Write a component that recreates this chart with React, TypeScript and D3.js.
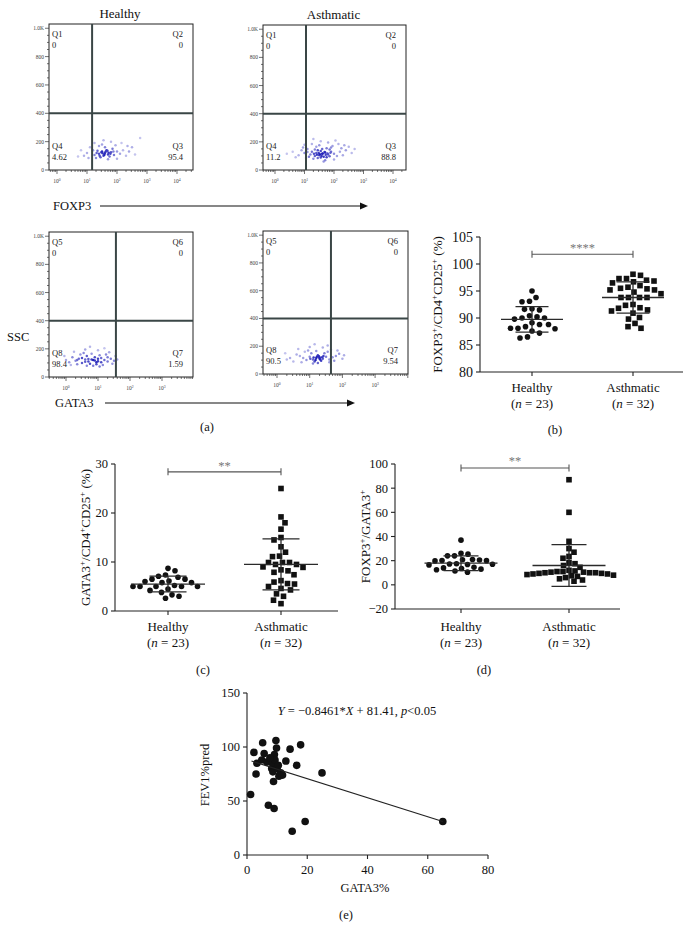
import React, { useEffect, useRef } from 'react'
import * as d3 from 'd3'

const SERIF = "'Liberation Serif', 'Times New Roman', Times, serif"

// (a) flow cytometry events, [log10 intensity, SSC]
const foxp3HealthyEvents = [
  [1.6, 120], [1.5, 130], [1.7, 110], [1.4, 115], [1.8, 125], [1.65, 140], [1.55, 100], [1.35, 135], [1.9, 105], [2.0, 130],
  [1.25, 105], [1.45, 90], [1.75, 95], [2.1, 115], [1.2, 140], [1.85, 150], [1.6, 160], [1.3, 85], [2.2, 140], [2.3, 100],
  [1.0, 120], [0.9, 100], [1.1, 160], [1.95, 175], [1.5, 180], [2.4, 130], [2.5, 160], [0.8, 140], [1.7, 75], [2.0, 80],
  [1.4, 170], [2.15, 190], [1.8, 200], [1.05, 85], [2.6, 110], [1.55, 210], [2.77, 225], [0.7, 95], [1.25, 190], [2.35, 170],
  [1.62, 128], [1.52, 118], [1.72, 122], [1.58, 108], [1.68, 135], [1.48, 125], [1.78, 115], [1.42, 100], [1.88, 130], [1.32, 120]
]
const foxp3AsthmaticEvents = [
  [1.6, 115], [1.5, 105], [1.7, 125], [1.4, 120], [1.8, 110], [1.55, 135], [1.65, 95], [1.35, 100], [1.9, 130], [2.0, 115],
  [1.25, 130], [1.45, 85], [1.75, 90], [2.1, 100], [1.2, 110], [1.85, 145], [1.6, 150], [1.3, 80], [2.2, 130], [2.3, 105],
  [1.0, 120], [0.8, 105], [0.6, 130], [1.1, 150], [1.95, 170], [1.5, 175], [2.4, 140], [2.5, 165], [0.9, 140], [1.7, 70],
  [2.0, 75], [1.4, 165], [2.15, 185], [1.8, 195], [1.05, 85], [2.6, 120], [1.55, 205], [1.3, 220], [0.4, 115], [0.7, 90],
  [1.25, 185], [2.35, 175], [1.62, 118], [1.52, 112], [1.72, 108], [1.58, 100], [1.68, 128], [1.48, 120], [1.78, 118], [1.42, 108],
  [1.88, 122], [1.32, 115], [1.15, 95], [1.65, 60], [1.9, 160], [2.7, 150], [1.0, 180], [2.05, 210], [1.45, 140], [1.75, 155],
  [1.55, 88], [1.85, 98], [1.1, 128], [2.25, 155], [0.95, 160], [1.35, 145]
]
const gata3HealthyEvents = [
  [0.85, 120], [0.7, 110], [1.0, 130], [0.6, 125], [1.1, 105], [0.9, 140], [0.5, 100], [1.2, 120], [0.4, 130], [1.3, 110],
  [0.75, 95], [0.95, 90], [0.3, 115], [1.4, 130], [0.2, 140], [0.65, 150], [1.05, 155], [0.8, 165], [0.55, 170], [1.25, 160],
  [0.0, 120], [1.5, 115], [0.35, 90], [1.15, 85], [0.85, 80], [0.45, 160], [1.35, 175], [0.1, 105], [0.6, 195], [1.0, 190],
  [0.25, 180], [1.45, 95], [-0.05, 150], [0.75, 215], [1.2, 205], [1.55, 150], [0.9, 118], [0.8, 125], [1.0, 112], [0.7, 128],
  [0.95, 105], [1.1, 135], [0.6, 108], [0.5, 135], [1.3, 140], [0.35, 120], [1.6, 125], [0.15, 85], [1.05, 75], [0.65, 80]
]
const gata3AsthmaticEvents = [
  [1.2, 115], [1.1, 105], [1.3, 120], [1.0, 125], [1.4, 110], [1.25, 135], [0.9, 100], [1.5, 125], [0.8, 115], [1.6, 105],
  [1.15, 90], [1.35, 95], [0.7, 130], [1.7, 120], [0.6, 140], [1.05, 150], [1.45, 150], [1.2, 165], [0.95, 170], [1.55, 160],
  [0.4, 115], [1.8, 130], [0.5, 90], [1.75, 95], [1.25, 80], [0.85, 160], [1.65, 175], [0.3, 105], [1.0, 195], [1.4, 190],
  [0.65, 180], [1.9, 145], [0.25, 150], [1.15, 215], [1.55, 205], [2.0, 110], [1.3, 112], [1.22, 125], [1.12, 118], [1.32, 105],
  [1.18, 100], [1.42, 130], [1.02, 110], [1.38, 120], [1.28, 128], [0.75, 85], [1.85, 170], [1.6, 85], [1.1, 75], [2.05, 135]
]

const flowTitles = ['Healthy', 'Asthmatic']
const topQuadNames = ['Q1', 'Q2', 'Q3', 'Q4']
const bottomQuadNames = ['Q5', 'Q6', 'Q7', 'Q8']
// top-left, top-right, bottom-right, bottom-left
const foxp3HealthyQuad = ['0', '0', '95.4', '4.62']
const foxp3AsthmaticQuad = ['0', '0', '88.8', '11.2']
const gata3HealthyQuad = ['0', '0', '1.59', '98.4']
const gata3AsthmaticQuad = ['0', '0', '9.54', '90.5']
const foxp3Gates = [1.17, 1.05]
const gata3Gates = [1.56, 1.65]
const sscGate = 400
const sscTicks = [0, 200, 400, 600, 800, 1000]

// (b)-(d) dot plots
const groups = ['Healthy', 'Asthmatic']
const groupSizes = [23, 32]

const foxp3Healthy = [95.0, 93.0, 93.1, 93.8, 91.5, 91.6, 91.7, 90.4, 90.0, 89.8, 90.0, 90.2, 88.8, 88.4, 88.1, 88.1, 88.0, 88.8, 89.1, 87.2, 87.6, 86.3, 86.5]
const foxp3Asthmatic = [97.9, 98.1, 96.85, 96.5, 97.3, 97.0, 97.3, 96.7, 95.2, 94.8, 95.7, 95.4, 95.5, 96.0, 95.2, 94.5,
  93.8, 93.8, 93.8, 93.8, 92.35, 92.5, 91.8, 91.3, 91.5, 91.9, 90.9, 90.1, 89.8, 89.0, 88.1, 88.4]
const foxp3Mean = [89.75, 93.8]
const foxp3Sd = [2.35, 2.9]
const foxp3Ticks = [80, 85, 90, 95, 100, 105]

const gata3Healthy = [8.7, 8.2, 7.35, 6.9, 6.5, 6.5, 7.1, 6.1, 5.8, 5.2, 5.0, 5.0, 5.0, 5.0, 5.0, 5.8, 6.0, 4.5, 4.2, 3.8, 3.3, 3.0, 2.6]
const gata3Asthmatic = [25, 19.2, 18.0, 16.7, 15.0, 14.5, 13.1, 12.0, 11.2, 11.1, 9.9, 9.9, 9.9, 9.5, 9.5, 9.0,
  8.9, 8.4, 8.2, 7.9, 7.4, 6.2, 5.9, 5.6, 5.5, 5.0, 4.6, 4.3, 3.5, 3.0, 2.2, 1.5]
const gata3Mean = [5.5, 9.5]
const gata3Sd = [1.6, 5.2]
const gata3Ticks = [0, 10, 20, 30]

const ratioHealthy = [37, 26.2, 25.4, 24.0, 24.0, 21.0, 20.7, 20.5, 20.2, 20.0, 19.8, 17.5, 17.2, 17.0, 16.8, 16.5, 14.5, 14.0, 13.5, 13.0, 12.5, 11.5, 10.5]
const ratioAsthmatic = [87, 60, 36, 30, 27, 23.5, 22, 18.5, 17.5, 16, 14.5, 12, 11.5, 11, 11, 10.5,
  10.5, 10, 10, 10, 9.5, 9.5, 9, 9, 8.5, 8, 7.5, 7, 6, 5, 4, 3]
const ratioMean = [17.9, 16]
const ratioSd = [6.1, 17.3]
const ratioTicks = [-20, 0, 20, 40, 60, 80, 100]

// (e) GATA3% vs FEV1%pred
const gata3Pct = [1.2, 2.3, 3.0, 3.3, 4.9, 5.2, 5.7, 6.6, 7.1, 8.2, 8.5, 8.6, 8.8, 9.0, 9.1, 9.3,
  9.6, 9.8, 10.0, 10.4, 10.6, 11.2, 11.8, 12.9, 14.3, 15.0, 16.5, 17.8, 19.3, 24.9, 65.0, 7.6]
const fev1Pred = [56, 95, 75, 85, 88, 104, 94, 86, 46, 80, 85, 77, 68, 43, 93, 88,
  106, 99, 80, 83, 73, 76, 74, 87, 98, 22, 83, 102, 31, 76, 31, 90]
const fitLine = [[1.5, 87], [65, 31]]
const fevTicks = [0, 50, 100, 150]
const gataPctTicks = [0, 20, 40, 60, 80]

function rich (text: any, parts: string[][], size: number) {
  let cur = 0
  parts.forEach(([s, kind]) => {
    const t = text.append('tspan').text(s)
    const target = kind === 'sup' ? -size * 0.4 : 0
    if (target !== cur) t.attr('dy', target - cur)
    cur = target
    if (kind === 'sup') t.attr('font-size', size * 0.68)
    if (kind === 'i') t.attr('font-style', 'italic')
  })
}

function swarm (values: number[], y: any, cx: number, gap: number) {
  const order = d3.range(values.length).sort((a, b) => values[b] - values[a])
  const placed: number[][] = []
  let flip = 1
  order.forEach(i => {
    const py = y(values[i])
    let dx = 0
    for (let k = 0; k < 600; k++) {
      const off = Math.ceil(k / 2) * 0.5 * (k % 2 ? flip : -flip)
      if (placed.every(p => Math.hypot(p[0] - (cx + off), p[1] - py) >= gap)) { dx = off; break }
    }
    if (dx !== 0) flip = -flip
    placed.push([cx + dx, py])
  })
  return placed
}

function drawFlow (svg: any, p: any) {
  const x = d3.scaleLinear()
    .domain([(p.left - p.x0) / p.decade, (p.right - p.x0) / p.decade])
    .range([p.left, p.right])
  const y = d3.scaleLinear().domain([0, 1030]).range([p.bottom, p.top])
  const g = svg.append('g').attr('font-family', SERIF)

  // events, shaded by local density
  const pts = p.events.map((d: number[]) => ({ px: x(d[0]), py: y(d[1]), n: 0 }))
  pts.forEach((a: any) => { a.n = pts.filter((b: any) => Math.hypot(a.px - b.px, a.py - b.py) < 6).length })
  pts.sort((a: any, b: any) => a.n - b.n)
  const shade = d3.scaleLinear<string>().domain([1, d3.max(pts, (d: any) => d.n) as number]).range(['#c4c4ee', '#2020b8'])
  g.selectAll('circle.ev').data(pts).enter().append('circle')
    .attr('cx', (d: any) => d.px).attr('cy', (d: any) => d.py).attr('r', 1.25)
    .attr('fill', (d: any) => shade(d.n))

  g.append('rect')
    .attr('x', p.left).attr('y', p.top)
    .attr('width', p.right - p.left).attr('height', p.bottom - p.top)
    .attr('fill', 'none').attr('stroke', '#222').attr('stroke-width', 1)

  // gates
  g.append('line').attr('x1', p.left).attr('x2', p.right).attr('y1', y(sscGate)).attr('y2', y(sscGate))
    .attr('stroke', '#3a4646').attr('stroke-width', 2)
  g.append('line').attr('x1', x(p.gate)).attr('x2', x(p.gate)).attr('y1', p.top).attr('y2', p.bottom)
    .attr('stroke', '#3a4646').attr('stroke-width', 2)

  // y axis ticks
  d3.range(0, 1001, 50).forEach(v => {
    const major = v % 200 === 0
    g.append('line').attr('x1', p.left - (major ? 4 : 2)).attr('x2', p.left)
      .attr('y1', y(v)).attr('y2', y(v)).attr('stroke', '#333').attr('stroke-width', 0.7)
  })
  sscTicks.forEach(v => {
    g.append('text').attr('x', p.left - 5).attr('y', y(v) + 2)
      .attr('text-anchor', 'end').attr('font-size', 5.5).attr('fill', '#444')
      .text(v === 1000 ? '1.0K' : String(v))
  })

  // log x axis ticks
  const [d0, d1] = x.domain()
  for (let dec = Math.floor(d0) - 1; dec <= Math.ceil(d1); dec++) {
    for (let k = 1; k <= 9; k++) {
      const v = dec + Math.log10(k)
      if (v < d0 || v > d1) continue
      g.append('line').attr('x1', x(v)).attr('x2', x(v))
        .attr('y1', p.bottom).attr('y2', p.bottom + (k === 1 ? 4 : 2))
        .attr('stroke', '#333').attr('stroke-width', 0.7)
      if (k === 1 && dec >= 0 && dec <= p.maxDecade) {
        const t = g.append('text').attr('x', x(v)).attr('y', p.bottom + 13)
          .attr('text-anchor', 'middle').attr('font-size', 5.5).attr('fill', '#444')
        rich(t, [['10', ''], [String(dec), 'sup']], 5.5)
      }
    }
  }

  // quadrant labels
  const spots = [
    [p.left + 3, p.top + 13, 'start'], [p.right - 10, p.top + 13, 'end'],
    [p.right - 10, p.bottom - 21, 'end'], [p.left + 3, p.bottom - 21, 'start']
  ]
  spots.forEach((s, i) => {
    g.append('text').attr('x', s[0]).attr('y', s[1]).attr('text-anchor', s[2])
      .attr('font-size', 8.5).attr('fill', '#222').text(p.names[i])
    g.append('text').attr('x', s[0]).attr('y', (s[1] as number) + 11).attr('text-anchor', s[2])
      .attr('font-size', 8.5).attr('fill', '#222').text(p.quad[i])
  })

  if (p.title) {
    g.append('text').attr('x', (p.left + p.right) / 2 - 1).attr('y', p.top - 6)
      .attr('text-anchor', 'middle').attr('font-size', 13).attr('fill', '#111').text(p.title)
  }
}

function drawDots (svg: any, p: any) {
  const y = d3.scaleLinear().domain(p.domain).range([p.bottom, p.top])
  const x = d3.scalePoint().domain(groups).range(p.cats)
  const g = svg.append('g').attr('font-family', SERIF).attr('fill', '#111')

  g.append('line').attr('x1', p.left).attr('x2', p.left).attr('y1', p.top).attr('y2', p.bottom)
    .attr('stroke', '#222').attr('stroke-width', 1.1)
  g.append('line').attr('x1', p.left).attr('x2', p.right).attr('y1', p.bottom).attr('y2', p.bottom)
    .attr('stroke', '#222').attr('stroke-width', 1.1)
  p.ticks.forEach((v: number) => {
    g.append('line').attr('x1', p.left - 4).attr('x2', p.left).attr('y1', y(v)).attr('y2', y(v))
      .attr('stroke', '#222').attr('stroke-width', 1.1)
    g.append('text').attr('x', p.left - 7).attr('y', y(v)).attr('dy', '0.35em')
      .attr('text-anchor', 'end').attr('font-size', p.tickSize).text(String(v).replace('-', '−'))
  })
  groups.forEach((grp, gi) => {
    const cx = x(grp) as number
    g.append('line').attr('x1', cx).attr('x2', cx).attr('y1', p.bottom).attr('y2', p.bottom + 4)
      .attr('stroke', '#222').attr('stroke-width', 1.1)
    g.append('text').attr('x', cx).attr('y', p.catY).attr('text-anchor', 'middle')
      .attr('font-size', 13).text(grp)
    const t = g.append('text').attr('x', cx).attr('y', p.catY + 16).attr('text-anchor', 'middle').attr('font-size', 13)
    rich(t, [['(', ''], ['n', 'i'], [' = ' + groupSizes[gi] + ')', '']], 13)

    const pts = swarm(p.sets[gi], y, cx, p.gap[gi])
    if (gi === 0) {
      g.selectAll('circle.g' + gi).data(pts).enter().append('circle')
        .attr('cx', (d: number[]) => d[0]).attr('cy', (d: number[]) => d[1]).attr('r', 2.8).attr('fill', '#111')
    } else {
      g.selectAll('rect.g' + gi).data(pts).enter().append('rect')
        .attr('x', (d: number[]) => d[0] - 2.8).attr('y', (d: number[]) => d[1] - 2.8)
        .attr('width', 5.6).attr('height', 5.6).attr('fill', '#111')
    }

    // mean and SD
    const m = p.mean[gi]
    const s = p.sd[gi]
    const ln = (x1: number, x2: number, y1: number, y2: number) =>
      g.append('line').attr('x1', x1).attr('x2', x2).attr('y1', y1).attr('y2', y2)
        .attr('stroke', '#2a2a2a').attr('stroke-width', 1.3)
    ln(cx - p.meanW / 2, cx + p.meanW / 2, y(m), y(m))
    ln(cx - p.sdW / 2, cx + p.sdW / 2, y(m + s), y(m + s))
    ln(cx - p.sdW / 2, cx + p.sdW / 2, y(m - s), y(m - s))
    ln(cx, cx, y(m + s), y(m - s))
  })

  // significance bracket
  const by = y(p.bracket)
  const c0 = x(groups[0]) as number
  const c1 = x(groups[1]) as number
  const br = g.append('g').attr('stroke', '#555').attr('stroke-width', 1.1)
  br.append('line').attr('x1', c0).attr('x2', c1).attr('y1', by).attr('y2', by)
  br.append('line').attr('x1', c0).attr('x2', c0).attr('y1', by - 3.5).attr('y2', by + 3.5)
  br.append('line').attr('x1', c1).attr('x2', c1).attr('y1', by - 3.5).attr('y2', by + 3.5)
  g.append('text').attr('x', (c0 + c1) / 2).attr('y', by + p.starDy).attr('text-anchor', 'middle')
    .attr('font-size', 12.5).attr('fill', '#777').text(p.stars)

  const lab = g.append('text').attr('transform', 'translate(' + p.labelX + ',' + ((p.top + p.bottom) / 2) + ') rotate(-90)')
    .attr('text-anchor', 'middle').attr('font-size', 13)
  rich(lab, p.label, 13)

  g.append('text').attr('x', p.letterX).attr('y', p.letterY).attr('text-anchor', 'middle')
    .attr('font-size', 12.5).text(p.letter)
}

function drawScatter (svg: any) {
  const left = 247
  const right = 488
  const top = 693
  const bottom = 855
  const x = d3.scaleLinear().domain([0, 80]).range([left, right])
  const y = d3.scaleLinear().domain([0, 150]).range([bottom, top])
  const g = svg.append('g').attr('font-family', SERIF).attr('fill', '#111')

  g.append('line').attr('x1', left).attr('x2', left).attr('y1', top).attr('y2', bottom)
    .attr('stroke', '#222').attr('stroke-width', 1.1)
  g.append('line').attr('x1', left).attr('x2', right).attr('y1', bottom).attr('y2', bottom)
    .attr('stroke', '#222').attr('stroke-width', 1.1)
  fevTicks.forEach(v => {
    g.append('line').attr('x1', left - 4).attr('x2', left).attr('y1', y(v)).attr('y2', y(v))
      .attr('stroke', '#222').attr('stroke-width', 1.1)
    g.append('text').attr('x', left - 7).attr('y', y(v)).attr('dy', '0.35em')
      .attr('text-anchor', 'end').attr('font-size', 12.5).text(v)
  })
  gataPctTicks.forEach(v => {
    g.append('line').attr('x1', x(v)).attr('x2', x(v)).attr('y1', bottom).attr('y2', bottom + 4)
      .attr('stroke', '#222').attr('stroke-width', 1.1)
    g.append('text').attr('x', x(v)).attr('y', bottom + 19)
      .attr('text-anchor', 'middle').attr('font-size', 12.5).text(v)
  })

  g.selectAll('circle.pt').data(gata3Pct).enter().append('circle')
    .attr('cx', (d: number) => x(d)).attr('cy', (d: number, i: number) => y(fev1Pred[i]))
    .attr('r', 3.8).attr('fill', '#111')

  g.append('path').datum(fitLine)
    .attr('d', d3.line().x((d: number[]) => x(d[0])).y((d: number[]) => y(d[1])))
    .attr('fill', 'none').attr('stroke', '#222').attr('stroke-width', 1.1)

  const eq = g.append('text').attr('x', 357).attr('y', 715).attr('text-anchor', 'middle').attr('font-size', 12.5)
  rich(eq, [['Y', 'i'], [' = −0.8461*', ''], ['X', 'i'], [' + 81.41, ', ''], ['p', 'i'], ['<0.05', '']], 12.5)

  g.append('text').attr('x', 365).attr('y', 892).attr('text-anchor', 'middle').attr('font-size', 12.5).text('GATA3%')
  g.append('text').attr('transform', 'translate(209,775) rotate(-90)')
    .attr('text-anchor', 'middle').attr('font-size', 12.5).text('FEV1%pred')
  g.append('text').attr('x', 346).attr('y', 919).attr('text-anchor', 'middle').attr('font-size', 12.5).text('(e)')
}

function arrow (svg: any, x1: number, x2: number, yy: number) {
  svg.append('line').attr('x1', x1).attr('x2', x2 - 6).attr('y1', yy).attr('y2', yy)
    .attr('stroke', '#111').attr('stroke-width', 1.2)
  svg.append('path').attr('d', `M${x2},${yy} L${x2 - 8},${yy - 3.5} L${x2 - 8},${yy + 3.5} Z`).attr('fill', '#111')
}

export default function App () {
  const ref = useRef<SVGSVGElement>(null)

  useEffect(() => {
    const svg = d3.select(ref.current)
    svg.selectAll('*').remove()
    svg.append('rect').attr('width', 691).attr('height', 940).attr('fill', '#fff')

    drawFlow(svg, { events: foxp3HealthyEvents, quad: foxp3HealthyQuad, names: topQuadNames, title: flowTitles[0], gate: foxp3Gates[0], left: 49, right: 193, top: 24, bottom: 170, x0: 57, decade: 30, maxDecade: 4 })
    drawFlow(svg, { events: foxp3AsthmaticEvents, quad: foxp3AsthmaticQuad, names: topQuadNames, title: flowTitles[1], gate: foxp3Gates[1], left: 263, right: 406, top: 25, bottom: 170, x0: 275, decade: 29.5, maxDecade: 4 })
    drawFlow(svg, { events: gata3HealthyEvents, quad: gata3HealthyQuad, names: bottomQuadNames, gate: gata3Gates[0], left: 49, right: 193, top: 232, bottom: 377, x0: 66, decade: 32, maxDecade: 3 })
    drawFlow(svg, { events: gata3AsthmaticEvents, quad: gata3AsthmaticQuad, names: bottomQuadNames, gate: gata3Gates[1], left: 263, right: 408, top: 231, bottom: 374, x0: 277, decade: 32.7, maxDecade: 3 })

    const lbl = svg.append('g').attr('font-family', SERIF).attr('font-size', 12.5).attr('fill', '#111')
    lbl.append('text').attr('x', 53).attr('y', 210).text('FOXP3')
    lbl.append('text').attr('x', 7).attr('y', 341).text('SSC')
    lbl.append('text').attr('x', 55).attr('y', 407).text('GATA3')
    lbl.append('text').attr('x', 207).attr('y', 431).attr('text-anchor', 'middle').text('(a)')
    arrow(svg, 100, 368, 206)
    arrow(svg, 105, 355, 403)

    drawDots(svg, {
      sets: [foxp3Healthy, foxp3Asthmatic], mean: foxp3Mean, sd: foxp3Sd, domain: [80, 105], ticks: foxp3Ticks,
      left: 480, right: 683, top: 237, bottom: 372, cats: [532, 633], tickSize: 14, meanW: 62, sdW: 33,
      bracket: 101.8, stars: '****', starDy: -2, catY: 392, gap: [7.4, 7.4],
      label: [['FOXP3', ''], ['+', 'sup'], ['/CD4', ''], ['+', 'sup'], ['CD25', ''], ['+', 'sup'], [' (%)', '']],
      labelX: 442, letter: '(b)', letterX: 555, letterY: 434
    })
    drawDots(svg, {
      sets: [gata3Healthy, gata3Asthmatic], mean: gata3Mean, sd: gata3Sd, domain: [0, 30], ticks: gata3Ticks,
      left: 115, right: 338, top: 464, bottom: 611, cats: [168, 281], tickSize: 12.5, meanW: 74, sdW: 37,
      bracket: 28.4, stars: '**', starDy: -1.5, catY: 631, gap: [7, 7],
      label: [['GATA3', ''], ['+', 'sup'], ['/CD4', ''], ['+', 'sup'], ['CD25', ''], ['+', 'sup'], [' (%)', '']],
      labelX: 90, letter: '(c)', letterX: 203, letterY: 674
    })
    drawDots(svg, {
      sets: [ratioHealthy, ratioAsthmatic], mean: ratioMean, sd: ratioSd, domain: [-20, 100], ticks: ratioTicks,
      left: 395, right: 620, top: 464, bottom: 609, cats: [461, 569], tickSize: 12.5, meanW: 73, sdW: 35,
      bracket: 96.7, stars: '**', starDy: -3, catY: 631, gap: [6.8, 5.9],
      label: [['FOXP3', ''], ['+', 'sup'], ['/GATA3', ''], ['+', 'sup']],
      labelX: 370, letter: '(d)', letterX: 484, letterY: 674
    })
    drawScatter(svg)
  }, [])

  return (
    <svg ref={ref} width={691} height={940} style={{ position: 'absolute', left: 0, top: 0 }} />
  )
}
